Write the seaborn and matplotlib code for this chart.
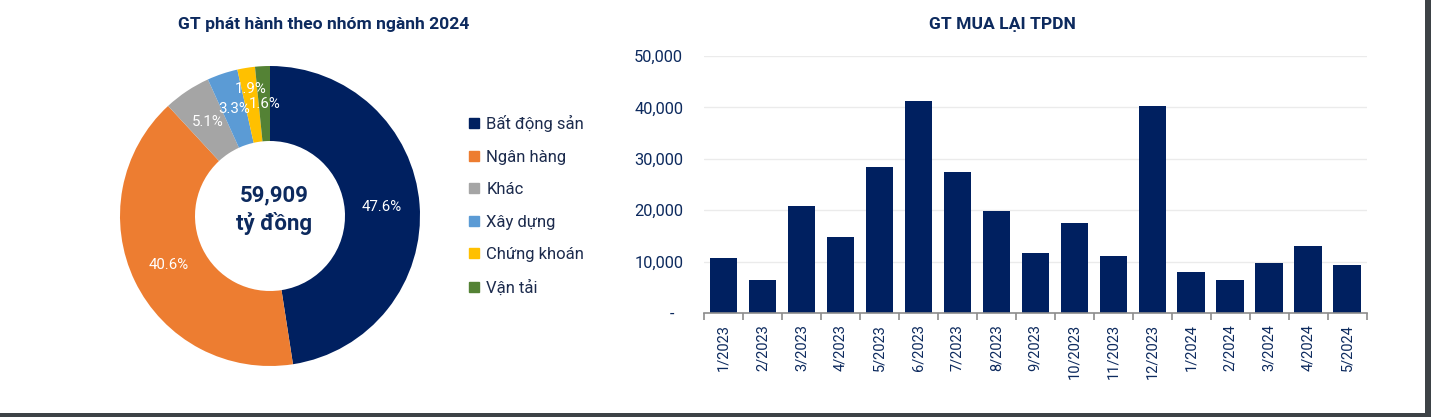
import matplotlib
matplotlib.use('Agg')
import matplotlib.pyplot as plt
import seaborn as sns
import pandas as pd
import numpy as np
from matplotlib.ticker import FuncFormatter
from matplotlib.patches import Rectangle
from matplotlib.lines import Line2D

# ---------------- data ----------------
sectors = ['Bất động sản', 'Ngân hàng', 'Khác', 'Xây dựng', 'Chứng khoán', 'Vận tải']
sector_pct = [47.6, 40.6, 5.1, 3.3, 1.9, 1.6]
sector_colors = ['#002060', '#ED7D31', '#A5A5A5', '#5B9BD5', '#FFC000', '#548235']
center_lines = ['59,909', 'tỷ đồng']

months = ['1/2023', '2/2023', '3/2023', '4/2023', '5/2023', '6/2023', '7/2023',
          '8/2023', '9/2023', '10/2023', '11/2023', '12/2023',
          '1/2024', '2/2024', '3/2024', '4/2024', '5/2024']
buyback = [10700, 6400, 20900, 14800, 28400, 41200, 27500, 19900, 11600,
           17600, 11000, 40300, 8000, 6500, 9800, 13000, 9300]

title_left = 'GT phát hành theo nhóm ngành 2024'
title_right = 'GT MUA LẠI TPDN'

# ---------------- style ----------------
sns.set_theme(style='white')
plt.rcParams['font.family'] = ['Roboto', 'DejaVu Sans']

navy = '#0d2a5e'
bar_color = '#002060'
W, H = 1431, 417

fig = plt.figure(figsize=(W / 100, H / 100), dpi=100)
fig.patch.set_facecolor('white')

# ---------------- donut ----------------
ax1 = fig.add_axes([120 / W, 1 - 366 / H, 300 / W, 300 / H])
wedges, texts, autotexts = ax1.pie(
    sector_pct, colors=sector_colors, startangle=90, counterclock=False,
    radius=1, wedgeprops=dict(width=0.5, edgecolor='none'),
    autopct='%.1f%%', pctdistance=0.75,
    textprops=dict(color='white', fontsize=10.8))
for t, v in zip(autotexts, sector_pct):
    t.set_text(f'{v:.1f}%')
# the small "1.9%" label sits a bit further out, as in the source
x, y = autotexts[4].get_position()
autotexts[4].set_position((x - 0.01, y * 1.14))
ax1.set_xlim(-1, 1)
ax1.set_ylim(-1, 1)
ax1.text(0.03, 0.14, center_lines[0], ha='center', va='center',
         fontsize=16, fontweight='bold', color=navy)
ax1.text(0.03, -0.05, center_lines[1], ha='center', va='center',
         fontsize=16, fontweight='bold', color=navy)

handles = [Line2D([0], [0], marker='s', linestyle='', markersize=7.5,
                  markerfacecolor=c, markeredgecolor=c) for c in sector_colors]
fig.legend(handles, sectors, loc='upper left',
           bbox_to_anchor=(467 / W, 1 - 115 / H), frameon=False,
           fontsize=12, labelspacing=1.05, handlelength=0.8,
           handletextpad=0.35, borderaxespad=0, borderpad=0,
           labelcolor='#1c2b4d')

# ---------------- bars ----------------
ax2 = fig.add_axes([704 / W, 1 - 313 / H, 662.5 / W, 257 / H])
df = pd.DataFrame({'month': months, 'value': buyback})
sns.barplot(data=df, x='month', y='value', color=bar_color, saturation=1,
            width=0.7, ax=ax2, linewidth=0)
ax2.set_ylim(0, 50000)
ax2.set_xlim(-0.5, len(months) - 0.5)
ax2.set_yticks(range(0, 50001, 10000))
ax2.yaxis.set_major_formatter(FuncFormatter(lambda v, p: '-  ' if v == 0 else f'{v:,.0f}'))
ax2.yaxis.grid(True, color='#ebebeb', lw=1)
ax2.xaxis.grid(False)
ax2.set_axisbelow(True)
for s in ['left', 'right', 'top']:
    ax2.spines[s].set_visible(False)
ax2.spines['bottom'].set_color('#8c8c8c')
ax2.spines['bottom'].set_linewidth(1.2)
ax2.tick_params(axis='y', length=0, pad=15, labelsize=11.8, labelcolor=navy)
ax2.tick_params(axis='x', which='major', length=0, pad=8, labelsize=10.5,
                labelcolor=navy, labelrotation=90)
ax2.set_xticks(np.arange(-0.5, len(months), 1), minor=True)
ax2.tick_params(axis='x', which='minor', length=5, width=1.2, color='#8c8c8c',
                direction='out', bottom=True)
ax2.set_xlabel('')
ax2.set_ylabel('')

# ---------------- titles ----------------
fig.text(324 / W, 1 - 24 / H, title_left, ha='center', va='center',
         fontsize=12.6, fontweight='bold', color=navy)
fig.text(1002 / W, 1 - 24 / H, title_right, ha='center', va='center',
         fontsize=12.6, fontweight='bold', color=navy)

# ---------------- frame edges (screenshot border) ----------------
fig.patches.append(Rectangle((1425 / W, 0), 6 / W, 1, transform=fig.transFigure,
                             facecolor='#3d4246', edgecolor='none'))
fig.patches.append(Rectangle((0, 0), 1, 4 / H, transform=fig.transFigure,
                             facecolor='#3d4246', edgecolor='none'))

fig.savefig('out.png', dpi=100)
